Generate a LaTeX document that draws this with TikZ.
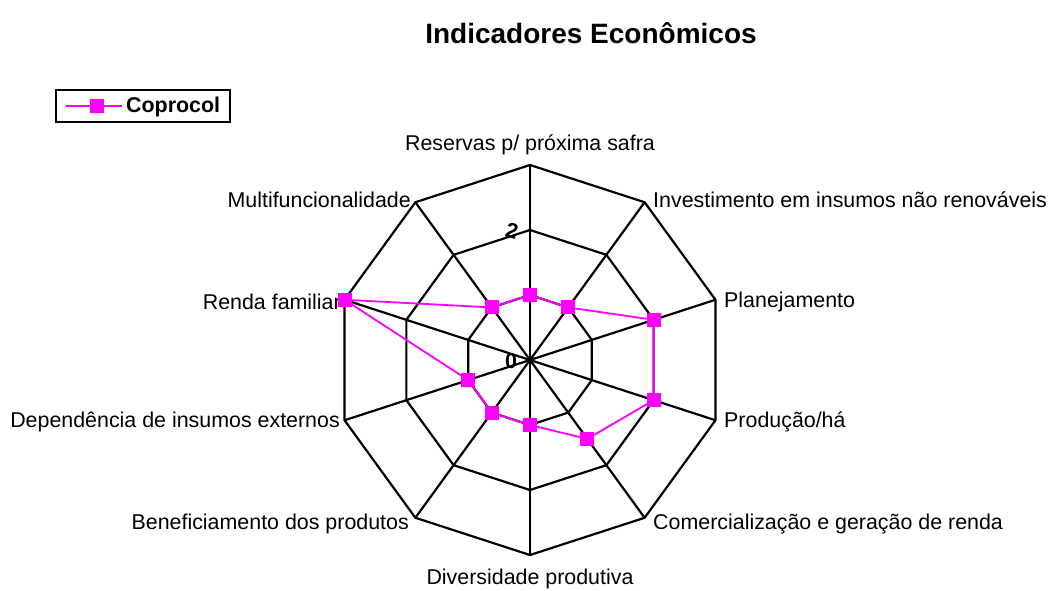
\documentclass[tikz,border=0pt]{standalone}
\usepackage{fontspec}
\setmainfont{Liberation Sans}
\definecolor{mag}{RGB}{255,0,255}
\begin{document}
\begin{tikzpicture}[x=1pt,y=-1pt,
  grid/.style={black,line width=2.2pt,line join=miter},
  series/.style={draw=mag,line width=1.8pt},
  mk/.style={rectangle,fill=mag,minimum size=14pt,inner sep=0pt},
  axlab/.style={font=\fontsize{21.4}{24}\selectfont,inner sep=0pt},
  scalelab/.style={font=\bfseries\fontsize{21.4}{24}\selectfont,inner sep=0pt}]
\useasboundingbox (0,0) rectangle (1050,590);
\def\R{195}
\coordinate (C) at (530,360);
% outer vertices and rings
\foreach \k in {0,...,9}{
  \pgfmathsetmacro\ang{90-36*\k}
  \pgfmathsetmacro\vx{530+\R*cos(\ang)}
  \pgfmathsetmacro\vy{360-\R*sin(\ang)}
  \coordinate (V\k) at (\vx,\vy);
  \foreach \lv in {1,2}{
    \pgfmathsetmacro\wx{530+\R*\lv/3*cos(\ang)}
    \pgfmathsetmacro\wy{360-\R*\lv/3*sin(\ang)}
    \coordinate (W\lv-\k) at (\wx,\wy);
  }
}
% spokes
\foreach \k in {0,...,9}{ \draw[grid] (C) -- (V\k); }
% rings
\draw[grid] (V0)--(V1)--(V2)--(V3)--(V4)--(V5)--(V6)--(V7)--(V8)--(V9)--cycle;
\foreach \lv in {1,2}{
  \draw[grid] (W\lv-0)--(W\lv-1)--(W\lv-2)--(W\lv-3)--(W\lv-4)--(W\lv-5)--(W\lv-6)--(W\lv-7)--(W\lv-8)--(W\lv-9)--cycle;
}
% scale labels
\node[scalelab,rotate=-15] (s2) at (512,231) {2};
\node[scalelab] (s0) at (511,361) {0};
% axis labels
\node[axlab] (l0) at (530,145) {Reservas p/ próxima safra};
\node[axlab,anchor=west] (l1) at (653,200) {Investimento em insumos não renováveis};
\node[axlab,anchor=west] (l2) at (724,302) {Planejamento};
\node[axlab,anchor=west] (l3) at (724,422) {Produção/há};
\node[axlab,anchor=west] (l4) at (653,524) {Comercialização e geração de renda};
\node[axlab] (l5) at (530,579) {Diversidade produtiva};
\node[axlab,anchor=east] (l6) at (409,524) {Beneficiamento dos produtos};
\node[axlab,anchor=east] (l7) at (340,422) {Dependência de insumos externos};
\node[axlab,anchor=east] (l8) at (341,302) {Renda familiar};
\node[axlab,anchor=east] (l9) at (411,200) {Multifuncionalidade};
% data (values out of 3)
\def\vals{1,1,2,2,1.5,1,1,1,3,1}
\foreach \v [count=\i from 0] in \vals{
  \pgfmathsetmacro\ang{90-36*\i}
  \pgfmathsetmacro\px{530+\R*\v/3*cos(\ang)}
  \pgfmathsetmacro\py{360-\R*\v/3*sin(\ang)}
  \coordinate (D\i) at (\px,\py);
}
\draw[series] (D0)--(D1)--(D2)--(D3)--(D4)--(D5)--(D6)--(D7)--(D8)--(D9)--cycle;
\foreach \i in {0,...,9}{ \node[mk] (M\i) at (D\i) {}; }
% title
\node[font=\bfseries\fontsize{28}{32}\selectfont,inner sep=0pt] (title) at (591,33) {Indicadores Econômicos};
% legend
\node[draw=black,line width=1.6pt,minimum width=174pt,minimum height=32pt,inner sep=0pt] (leg) at (143,106) {};
\coordinate (la) at (66,106);
\coordinate (lb) at (122,106);
\draw[series] (la) -- (lb);
\node[mk] (legmk) at (97,106) {};
\node[font=\bfseries\fontsize{21.4}{24}\selectfont,inner sep=0pt,anchor=west] (legtxt) at (126,107) {Coprocol};
\end{tikzpicture}
\end{document}
